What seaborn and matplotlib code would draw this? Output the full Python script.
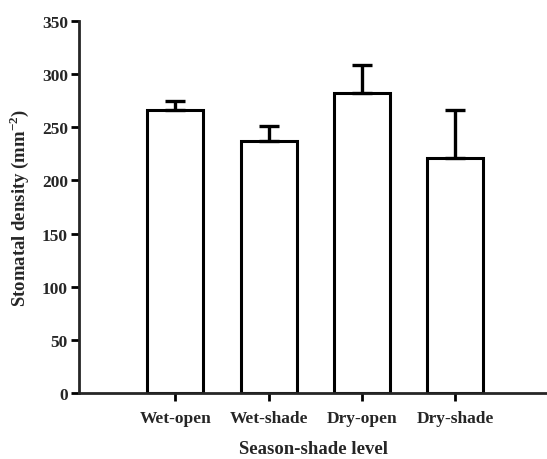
import matplotlib
matplotlib.use("Agg")
import matplotlib.pyplot as plt
import seaborn as sns
import pandas as pd
import numpy as np

categories = ["Wet-open", "Wet-shade", "Dry-open", "Dry-shade"]
means = [266, 237, 282, 221]
errors = [9, 14, 27, 45]

sns.set_style("ticks")
plt.rcParams['font.family'] = ['Liberation Serif', 'DejaVu Serif']
plt.rcParams['mathtext.fontset'] = 'custom'
plt.rcParams['mathtext.rm'] = 'Liberation Serif'
plt.rcParams['mathtext.bf'] = 'Liberation Serif:bold'

fig = plt.figure(figsize=(5.47, 4.6), dpi=100)
ax = fig.add_axes([0.1445, 0.1435, 0.8555, 0.8085])

df = pd.DataFrame({"cat": categories, "val": means})
sns.barplot(data=df, x="cat", y="val", ax=ax, color="white", edgecolor="black",
            linewidth=2.2, width=0.6, errorbar=None)
xs = np.arange(len(categories))
ax.errorbar(xs, means, yerr=[np.zeros(len(errors)), errors], fmt="none",
            ecolor="black", elinewidth=2.4, capsize=7.2, capthick=2.4)

ax.set_xlim(-1.03, 3.98)
ax.set_ylim(0, 350)
ax.set_yticks(range(0, 351, 50))
sns.despine(ax=ax)
for s in ["left", "bottom"]:
    ax.spines[s].set_linewidth(2)
ax.tick_params(axis="both", width=2, length=6, direction="out", color="black")
ax.tick_params(axis="y", labelsize=12.5, pad=2)
ax.tick_params(axis="x", labelsize=12.5, pad=6)
for lab in ax.get_yticklabels() + ax.get_xticklabels():
    lab.set_fontweight("bold")
ax.set_xlabel("Season-shade level", fontsize=13.5, fontweight="bold", labelpad=10.5)
ax.set_ylabel(r"Stomatal density (mm$^{\mathbf{-2}}$)", fontsize=13.5,
              fontweight="bold", labelpad=8)

fig.savefig("out.png", dpi=100)
